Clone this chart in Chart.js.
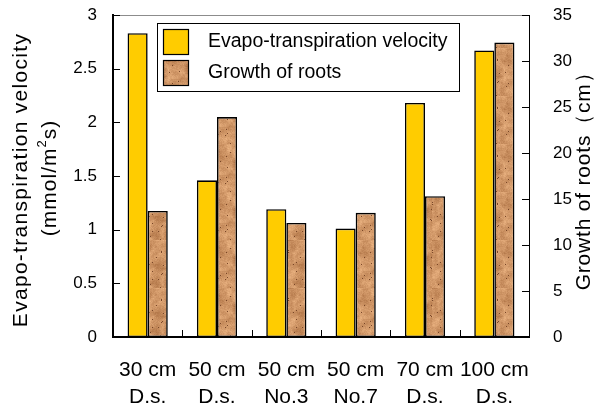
<!DOCTYPE html>
<html>
<head>
<meta charset="utf-8">
<script src="https://cdn.jsdelivr.net/npm/chart.js@4/dist/chart.umd.min.js"></script>
<style>
html,body{margin:0;padding:0;background:#fff;}
canvas{display:block;}
</style>
</head>
<body>
<canvas id="c" width="595" height="408"></canvas>
<script>
// ---- data ----
const categories = [['30 cm','D.s.'],['50 cm','D.s.'],['50 cm','No.3'],['50 cm','No.7'],['70 cm','D.s.'],['100 cm','D.s.']];
const evapoValues = [2.83, 1.46, 1.19, 1.01, 2.18, 2.67];
const rootValues = [13.7, 23.9, 12.4, 13.5, 15.3, 32.0];
const leftTicks = [0, 0.5, 1, 1.5, 2, 2.5, 3];
const rightTicks = [0, 5, 10, 15, 20, 25, 30, 35];
const seriesNames = ['Evapo-transpiration velocity', 'Growth of roots'];
const leftTitle = ['Evapo-transpiration velocity', '(mmol/m', '2', 's)'];
const rightTitle = 'Growth of roots\uFF08cm\uFF09';

const FONT = '"Liberation Sans", Arial, sans-serif';
const YELLOW = '#FFCC00';

// cork-like texture for the root bars (deterministic hash noise)
function makeTexture() {
  const S = 48;
  const cv = document.createElement('canvas');
  cv.width = S; cv.height = S;
  const cx = cv.getContext('2d');
  const img = cx.createImageData(S, S);
  function h(x, y) {
    x = ((x % S) + S) % S; y = ((y % S) + S) % S;
    let n = (x * 374761393 + y * 668265263) | 0;
    n = Math.imul(n ^ (n >>> 13), 1274126177);
    n = n ^ (n >>> 16);
    return (n >>> 0) / 4294967296;
  }
  function blob(x, y, s) {
    const gx = Math.floor(x / s), gy = Math.floor(y / s);
    const fx = (x % s) / s, fy = (y % s) / s;
    const a = h(gx * 7, gy * 7), b = h(gx * 7 + 7, gy * 7), c = h(gx * 7, gy * 7 + 7), d = h(gx * 7 + 7, gy * 7 + 7);
    return (a * (1 - fx) + b * fx) * (1 - fy) + (c * (1 - fx) + d * fx) * fy;
  }
  for (let y = 0; y < S; y++) {
    for (let x = 0; x < S; x++) {
      let v = 0.5 * blob(x, y, 6) + 0.3 * blob(x + 3, y + 5, 3) + 0.2 * h(x, y);
      let r = 165 + v * 80, g = 105 + v * 85, b = 60 + v * 80;
      if (h(x + 11, y + 17) > 0.988) { r = 120; g = 70; b = 40; }
      const i = (y * S + x) * 4;
      img.data[i] = r; img.data[i + 1] = g; img.data[i + 2] = b; img.data[i + 3] = 255;
    }
  }
  cx.putImageData(img, 0, 0);
  return cx.createPattern(cv, 'repeat');
}
const ctx0 = document.getElementById('c').getContext('2d');
const BROWN = makeTexture();

const decorPlugin = {
  id: 'decor',
  afterDraw(chart) {
    const ctx = chart.ctx;
    const a = chart.chartArea;
    const yl = chart.scales.y, yr = chart.scales.y1, xs = chart.scales.x;
    ctx.save();
    // top border
    ctx.strokeStyle = '#8c8c8c';
    ctx.lineWidth = 1;
    ctx.beginPath(); ctx.moveTo(a.left, a.top + 0.5); ctx.lineTo(a.right, a.top + 0.5); ctx.stroke();
    // ticks
    ctx.strokeStyle = '#000';
    ctx.lineWidth = 1;
    yl.ticks.forEach(t => {
      const y = Math.round(yl.getPixelForValue(t.value)) + 0.5;
      ctx.beginPath(); ctx.moveTo(a.left, y); ctx.lineTo(a.left + 7, y); ctx.stroke();
    });
    yr.ticks.forEach(t => {
      const y = Math.round(yr.getPixelForValue(t.value)) + 0.5;
      ctx.beginPath(); ctx.moveTo(a.right - 7, y); ctx.lineTo(a.right, y); ctx.stroke();
    });
    for (let i = 0; i < categories.length - 1; i++) {
      const x = Math.round((xs.getPixelForValue(i) + xs.getPixelForValue(i + 1)) / 2) + 0.5;
      ctx.beginPath(); ctx.moveTo(x, a.bottom); ctx.lineTo(x, a.bottom - 7); ctx.stroke();
    }
    // legend
    const lx = 157.5, ly = 23.5, lw = 302, lh = 68;
    ctx.fillStyle = '#fff';
    ctx.fillRect(lx, ly, lw, lh);
    ctx.strokeStyle = '#000';
    ctx.lineWidth = 1;
    ctx.strokeRect(lx, ly, lw, lh);
    const sw = [YELLOW, BROWN];
    const sy = [29, 60];
    ctx.font = '19.5px ' + FONT;
    ctx.textBaseline = 'middle';
    ctx.textAlign = 'left';
    for (let i = 0; i < 2; i++) {
      ctx.fillStyle = sw[i];
      ctx.fillRect(163.5, sy[i] + 0.5, 25, 25);
      ctx.strokeStyle = '#000';
      ctx.lineWidth = 1.2;
      ctx.strokeRect(163.5, sy[i] + 0.5, 25, 25);
      ctx.fillStyle = '#000';
      ctx.fillText(seriesNames[i], 208, sy[i] + 12.5);
    }
    // axis titles
    const cy = (a.top + a.bottom) / 2;
    ctx.fillStyle = '#000';
    ctx.font = '21px ' + FONT;
    ctx.textBaseline = 'middle';
    ctx.save();
    ctx.translate(21, cy + 4);
    ctx.rotate(-Math.PI / 2);
    ctx.letterSpacing = '1.3px';
    ctx.textAlign = 'center';
    ctx.fillText(leftTitle[0], 0, 0);
    ctx.restore();
    // second line with superscript
    ctx.save();
    ctx.translate(50, cy + 2);
    ctx.rotate(-Math.PI / 2);
    ctx.letterSpacing = '1px';
    ctx.textAlign = 'left';
    ctx.font = '21px ' + FONT;
    const w1 = ctx.measureText(leftTitle[1]).width;
    ctx.font = '13px ' + FONT;
    const w2 = ctx.measureText(leftTitle[2]).width;
    ctx.font = '21px ' + FONT;
    const w3 = ctx.measureText(leftTitle[3]).width;
    let x0 = -(w1 + w2 + w3) / 2;
    ctx.fillText(leftTitle[1], x0, 0);
    ctx.font = '13px ' + FONT;
    ctx.fillText(leftTitle[2], x0 + w1, -8);
    ctx.font = '21px ' + FONT;
    ctx.fillText(leftTitle[3], x0 + w1 + w2, 0);
    ctx.restore();
    // right title
    ctx.save();
    ctx.translate(584, cy);
    ctx.rotate(-Math.PI / 2);
    ctx.letterSpacing = '0.8px';
    ctx.textAlign = 'center';
    ctx.font = '21px ' + FONT;
    ctx.fillText(rightTitle, 0, 0);
    ctx.restore();
    ctx.restore();
  }
};

function noPad(s) { s.paddingTop = 0; s.paddingBottom = 0; s.paddingLeft = 0; s.paddingRight = 0; }

new Chart(ctx0, {
  type: 'bar',
  data: {
    labels: categories,
    datasets: [
      { label: seriesNames[0], data: evapoValues, yAxisID: 'y', backgroundColor: YELLOW,
        borderColor: '#000', borderWidth: 1.6, borderSkipped: false,
        categoryPercentage: 0.58, barPercentage: 1.0 },
      { label: seriesNames[1], data: rootValues, yAxisID: 'y1', backgroundColor: BROWN,
        borderColor: '#000', borderWidth: 1.6, borderSkipped: false,
        categoryPercentage: 0.58, barPercentage: 1.0 }
    ]
  },
  options: {
    responsive: false,
    animation: false,
    devicePixelRatio: 1,
    layout: { padding: { top: 15, left: 0, right: 0, bottom: 0 } },
    plugins: { legend: { display: false }, tooltip: { enabled: false } },
    scales: {
      x: {
        offset: true,
        grid: { display: false, drawTicks: false },
        border: { display: true, color: '#000', width: 2 },
        ticks: { color: '#000', font: { family: FONT, size: 21, lineHeight: 1.29 }, padding: 20, maxRotation: 0, autoSkip: false },
        afterFit(s) { s.height = 71; noPad(s); }
      },
      y: {
        position: 'left', min: 0, max: 3,
        afterBuildTicks(s) { s.ticks = leftTicks.map(v => ({ value: v })); },
        grid: { display: false, drawTicks: false },
        border: { display: true, color: '#000', width: 2 },
        ticks: { color: '#000', font: { family: FONT, size: 17 }, padding: 16, callback: v => String(v) },
        afterFit(s) { s.width = 113; noPad(s); }
      },
      y1: {
        position: 'right', min: 0, max: 35,
        afterBuildTicks(s) { s.ticks = rightTicks.map(v => ({ value: v })); },
        grid: { display: false, drawTicks: false },
        border: { display: true, color: '#000', width: 1 },
        ticks: { color: '#000', font: { family: FONT, size: 17 }, padding: 24, callback: v => String(v) },
        afterFit(s) { s.width = 66; noPad(s); }
      }
    }
  },
  plugins: [decorPlugin]
});
</script>
</body>
</html>
